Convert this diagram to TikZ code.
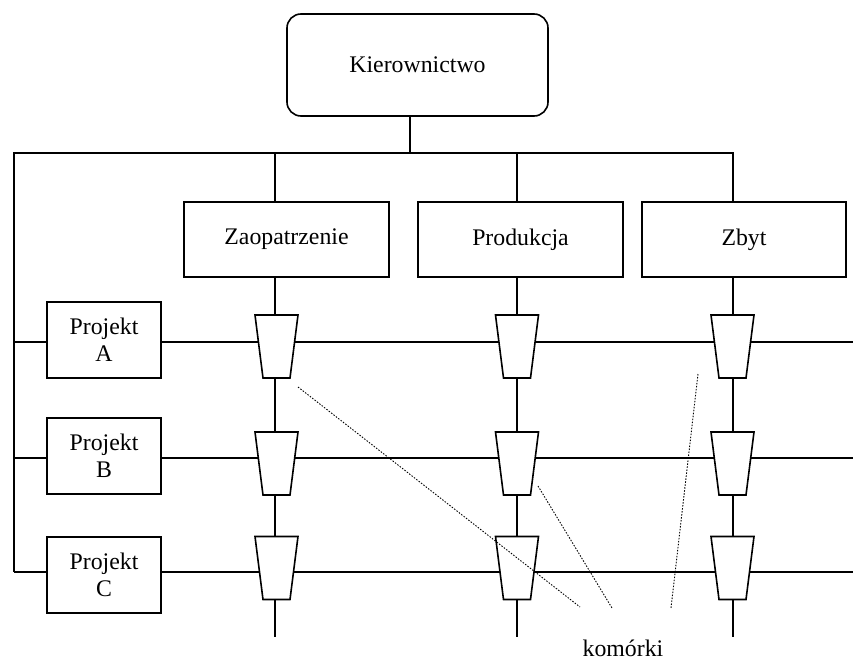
\documentclass[tikz,border=0pt]{standalone}
\usepackage{fontspec}
\setmainfont{Liberation Serif}
\usetikzlibrary{backgrounds}
\begin{document}
\begin{tikzpicture}[x=1bp,y=-1bp,
 box/.style={draw,line width=1.6bp,fill=white,inner sep=0pt,align=center,font=\fontsize{23.8bp}{27bp}\selectfont},
 cell/.style={minimum width=43bp,minimum height=63bp,inner sep=0pt,outer sep=0pt},
 cellshape/.style={line width=1.6bp,fill=white,line join=miter},
 link/.style={line width=1.6bp},
 dots/.style={line width=0.9bp,dash pattern=on 1.5bp off 1.5bp}]
\useasboundingbox (0,0) rectangle (853,660);
% boxes
\node[box,rounded corners=14bp,minimum width=261bp,minimum height=102bp] (K) at (417.5,65) {Kierownictwo};
\node[box,minimum width=205bp,minimum height=75bp] (Z) at (286.5,239.5) {Zaopatrzenie};
\node[box,minimum width=205bp,minimum height=75bp] (P) at (520.5,239.5) {Produkcja};
\node[box,minimum width=204bp,minimum height=75bp] (S) at (744,239.5) {Zbyt};
\node[box,minimum width=114bp,minimum height=76bp] (PA) at (104,340) {Projekt\\A};
\node[box,minimum width=114bp,minimum height=76bp] (PB) at (104,456) {Projekt\\B};
\node[box,minimum width=114bp,minimum height=76bp] (PC) at (104,575) {Projekt\\C};
% cells (named anchors, trapezoid outlines drawn below)
\node[cell] (A1) at (276.5,346.5) {};
\node[cell] (A2) at (517,346.5) {};
\node[cell] (A3) at (732.5,346.5) {};
\node[cell] (B1) at (276.5,463.5) {};
\node[cell] (B2) at (517,463.5) {};
\node[cell] (B3) at (732.5,463.5) {};
\node[cell] (C1) at (276.5,568) {};
\node[cell] (C2) at (517,568) {};
\node[cell] (C3) at (732.5,568) {};
\foreach \c in {A1,A2,A3,B1,B2,B3,C1,C2,C3}{
  \draw[cellshape] (\c.north west) -- (\c.north east) -- ([xshift=-8bp]\c.south east) -- ([xshift=8bp]\c.south west) -- cycle;
}
% coordinates
\coordinate (kb) at (410,153);
\coordinate (tl) at (14,153);
\coordinate (tr) at (733,153);
\coordinate (c1t) at (275,153);
\coordinate (c1b) at (275,637);
\coordinate (c2t) at (517,153);
\coordinate (c2b) at (517,637);
\coordinate (c3b) at (733,637);
\coordinate (la) at (14,342);
\coordinate (ra) at (853,342);
\coordinate (lb) at (14,458);
\coordinate (rb) at (853,458);
\coordinate (lc) at (14,572);
\coordinate (rc) at (853,572);
\begin{scope}[on background layer]
\draw[link] (K.south -| kb) -- (kb);
\draw[link] (lc) -- (tl) -- (tr) -- (c3b);
\draw[link] (c1t) -- (c1b);
\draw[link] (c2t) -- (c2b);
\draw[link] (la) -- (ra);
\draw[link] (lb) -- (rb);
\draw[link] (lc) -- (rc);
\end{scope}
% dotted pointers
\coordinate (d1a) at (298,387);
\coordinate (d1b) at (580,607);
\coordinate (d2a) at (538,486);
\coordinate (d2b) at (612,608);
\coordinate (d3a) at (698,374);
\coordinate (d3b) at (671,608);
\draw[dots] (d1a) -- (d1b);
\draw[dots] (d2a) -- (d2b);
\draw[dots] (d3a) -- (d3b);
\node[font=\fontsize{23.8bp}{27bp}\selectfont,anchor=base,inner sep=0pt] (L) at (623,656) {komórki};
\end{tikzpicture}
\end{document}
